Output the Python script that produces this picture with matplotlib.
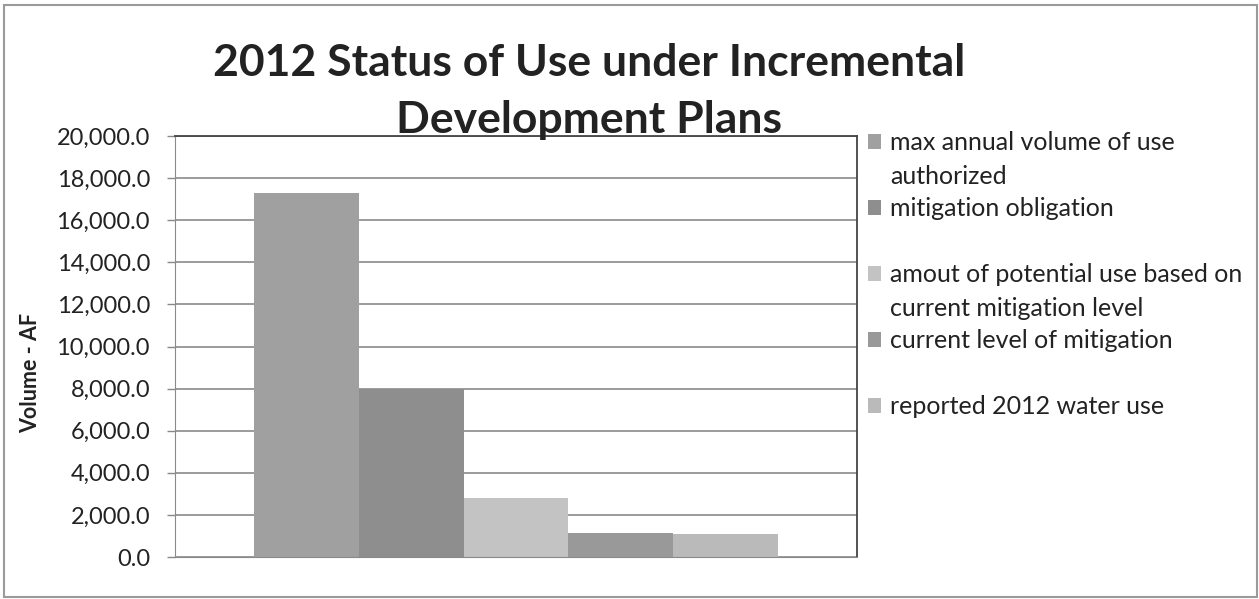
import matplotlib.pyplot as plt
from matplotlib.patches import Patch, Rectangle
from matplotlib.ticker import FuncFormatter
import numpy as np

# data
series_labels = [
    'max annual volume of use\nauthorized',
    'mitigation obligation',
    'amout of potential use based on\ncurrent mitigation level',
    'current level of mitigation',
    'reported 2012 water use',
]
values = [17300, 8000, 2800, 1160, 1080]
colors = ['#a0a0a0', '#8e8e8e', '#c3c3c3', '#999999', '#bababa']
y_ticks = [0, 2000, 4000, 6000, 8000, 10000, 12000, 14000, 16000, 18000, 20000]

title = '2012 Status of Use under Incremental\nDevelopment Plans'
y_label = 'Volume - AF'

plt.rcParams['font.family'] = ['Lato', 'DejaVu Sans']
text_color = '#222222'

fig = plt.figure(figsize=(12.59, 5.99), dpi=100)
ax = fig.add_axes([175 / 1259, 1 - 557 / 599, 682 / 1259, 421 / 599])

n = len(values)
bar_w = 0.767 / n
x = -0.767 / 2 + bar_w * (np.arange(n) + 0.5)
bars = []
for xi, v, c in zip(x, values, colors):
    bars.append(ax.bar(xi, v, width=bar_w, color=c, zorder=2))

ax.set_xlim(-0.5, 0.5)
ax.set_ylim(0, 20000)
ax.set_xticks([])
ax.set_yticks(y_ticks)
ax.yaxis.set_major_formatter(FuncFormatter(lambda v, p: f'{v:,.1f}'))
ax.tick_params(axis='y', length=6, width=1, color='#888888', labelsize=17,
               labelcolor=text_color, pad=12)
ax.grid(axis='y', color='#8a8a8a', linewidth=1.2, zorder=0)

for side in ['left', 'bottom']:
    ax.spines[side].set_color('#8a8a8a')
for side in ['top', 'right']:
    ax.spines[side].set_color('#444444')
    ax.spines[side].set_linewidth(1.3)

ax.set_ylabel(y_label, fontsize=15.5, fontweight='bold', color=text_color)
ax.yaxis.set_label_coords(-0.197, 0.437)

fig.text(0.468, 0.928, title, ha='center', va='top', fontsize=32,
         fontweight='bold', color=text_color, linespacing=1.5)

# legend: one row per text line, blank handles for wrapped lines
handles = []
labels = []
blank = Patch(facecolor='none', edgecolor='none')
for b, lab in zip(bars, series_labels):
    lines = lab.split('\n')
    handles.append(b)
    labels.append(lines[0])
    handles.append(blank)
    labels.append(lines[1] if len(lines) > 1 else '')
handles = handles[:-1]
labels = labels[:-1]
fig.legend(handles, labels, loc='upper left', bbox_to_anchor=(855 / 1259, 1 - 119 / 599),
           frameon=False, fontsize=18, labelcolor=text_color, handlelength=0.55,
           handleheight=0.55, handletextpad=0.35, labelspacing=0.4, borderpad=0)

fig.patches.append(Rectangle((4 / 1259, 2 / 599), 1253 / 1259, 592 / 599,
                             transform=fig.transFigure, fill=False,
                             edgecolor='#9a9a9a', linewidth=1.5))

fig.savefig('out.png', dpi=100)
